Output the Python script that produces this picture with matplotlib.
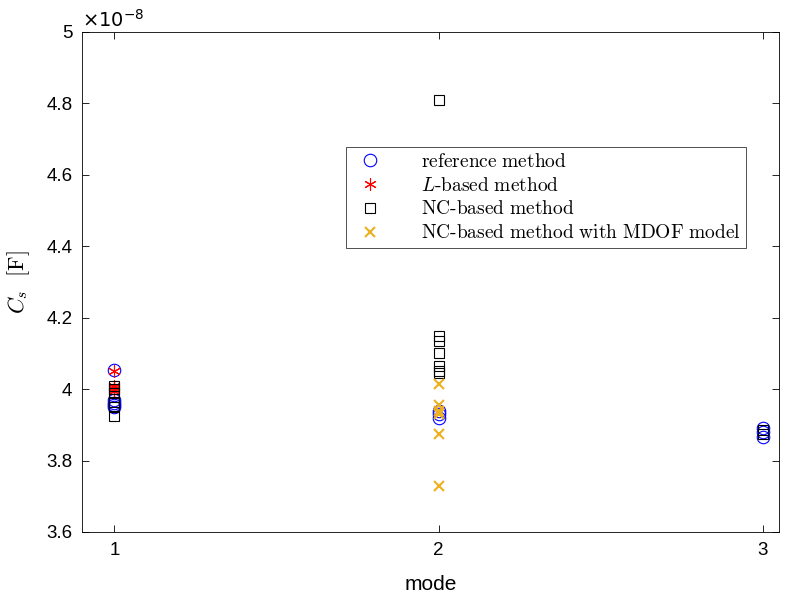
import matplotlib
matplotlib.use('Agg')
import matplotlib.pyplot as plt
from matplotlib.ticker import FuncFormatter

plt.rcParams['font.family'] = 'Liberation Sans'
plt.rcParams['mathtext.fontset'] = 'cm'

# capacitance values, in units of 1e-8 F
ref_mode = [1, 1, 1, 1, 1, 2, 2, 2, 3, 3, 3]
ref_cs = [4.055, 3.97, 3.96, 3.955, 3.95, 3.94, 3.93, 3.92, 3.89, 3.88, 3.865]

lbased_mode = [1, 1, 1, 1, 1]
lbased_cs = [4.05, 4.01, 4.005, 4.0, 3.995]

nc_mode = [1, 1, 1, 1, 1, 1, 2, 2, 2, 2, 2, 2, 2, 3, 3]
nc_cs = [4.01, 4.0, 3.99, 3.965, 3.95, 3.925,
         4.81, 4.15, 4.135, 4.10, 4.065, 4.05, 4.045, 3.885, 3.875]

mdof_mode = [2, 2, 2, 2, 2, 2]
mdof_cs = [4.015, 3.955, 3.94, 3.93, 3.875, 3.73]

fig = plt.figure(figsize=(7.87, 6.02), dpi=100)
ax = fig.add_axes([82/787, 70/602, 697/787, 500/602])

ax.plot(ref_mode, ref_cs, 'o', mfc='none', mec='#0000ff', ms=9, mew=0.8,
        label=r'$\mathrm{reference\ method}$')
ax.plot(lbased_mode, lbased_cs, marker=(6, 2, 0), ls='none', color='#ff0000', ms=9, mew=0.8,
        label=r'$L\mathrm{\text{-}based\ method}$')
ax.plot(nc_mode, nc_cs, 's', mfc='none', mec='black', ms=7, mew=0.8,
        label=r'$\mathrm{NC\text{-}based\ method}$')
ax.plot(mdof_mode, mdof_cs, 'x', color='#edb120', ms=7, mew=1.5,
        label=r'$\mathrm{NC\text{-}based\ method\ with\ MDOF\ model}$')

ax.set_xlim(0.9, 3.05)
ax.set_ylim(3.6, 5.0)
ax.set_xticks([1, 2, 3])
ax.set_yticks([3.6, 3.8, 4.0, 4.2, 4.4, 4.6, 4.8, 5.0])
ax.yaxis.set_major_formatter(FuncFormatter(lambda v, p: ('%.1f' % v).rstrip('0').rstrip('.')))
ax.tick_params(direction='in', top=True, right=True, labelsize=13.5, length=5, width=0.6, pad=7)
for s in ax.spines.values():
    s.set_linewidth(0.6)

ax.text(0.0, 1.002, r'$\times10^{-8}$', transform=ax.transAxes, fontsize=14,
        va='bottom', ha='left', math_fontfamily='dejavusans')
ax.set_xlabel('mode', fontsize=15, labelpad=12)
ax.set_ylabel(r'$C_s\ \ [\mathrm{F}]$', fontsize=16, labelpad=10)

leg = ax.legend(loc='upper left', bbox_to_anchor=(264/697, (532-147)/500), fontsize=14,
                frameon=True, fancybox=False, edgecolor='black', borderpad=0.3,
                labelspacing=0.3, handlelength=1.85, handletextpad=1.7, borderaxespad=0)
leg.get_frame().set_linewidth(0.6)

plt.savefig('out.png', dpi=100)
